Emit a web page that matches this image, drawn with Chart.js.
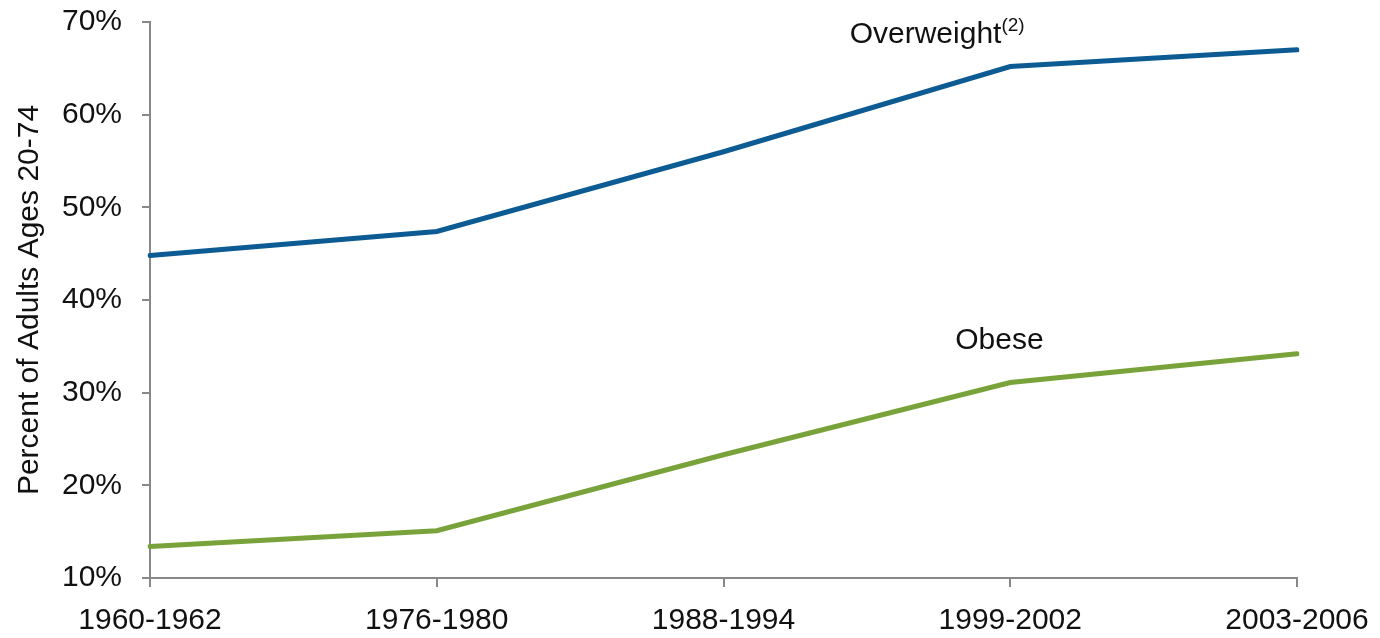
<!DOCTYPE html>
<html>
<head>
<meta charset="utf-8">
<script src="https://cdn.jsdelivr.net/npm/chart.js@4.4.1/dist/chart.umd.min.js"></script>
<style>
  html, body { margin: 0; padding: 0; background: #fff; }
  #wrap { width: 1380px; height: 638px; }
</style>
</head>
<body>
<div id="wrap"><canvas id="chart" width="1380" height="638"></canvas></div>
<script>
const periods = ["1960-1962", "1976-1980", "1988-1994", "1999-2002", "2003-2006"];
const overweight = [44.8, 47.4, 56.0, 65.2, 67.0];
const obese = [13.4, 15.1, 23.3, 31.1, 34.2];
const yTicks = [10, 20, 30, 40, 50, 60, 70];

const FONT = "'Liberation Sans', Arial, sans-serif";
const AXIS = "#888888";

// text labels next to the lines
const seriesLabels = {
  id: "seriesLabels",
  afterDatasetsDraw(chart) {
    const { ctx, scales: { x, y } } = chart;
    ctx.save();
    ctx.fillStyle = "#111";
    ctx.textBaseline = "alphabetic";
    ctx.textAlign = "left";

    ctx.font = "30px " + FONT;
    const ox = x.getPixelForValue(2.44);
    const oy = y.getPixelForValue(67.7);
    ctx.fillText("Overweight", ox, oy);
    const w = ctx.measureText("Overweight").width;
    ctx.font = "19px " + FONT;
    ctx.fillText("(2)", ox + w, oy - 12);

    ctx.font = "30px " + FONT;
    ctx.fillText("Obese", x.getPixelForValue(2.808), y.getPixelForValue(34.7));
    ctx.restore();
  }
};

new Chart(document.getElementById("chart").getContext("2d"), {
  type: "line",
  data: {
    labels: periods,
    datasets: [
      {
        label: "Overweight",
        data: overweight,
        borderColor: "#0c5b93",
        borderWidth: 5,
        pointRadius: 0,
        tension: 0,
        borderCapStyle: "round"
      },
      {
        label: "Obese",
        data: obese,
        borderColor: "#79a33a",
        borderWidth: 5,
        pointRadius: 0,
        tension: 0,
        borderCapStyle: "round"
      }
    ]
  },
  options: {
    responsive: false,
    animation: false,
    layout: { padding: { top: 22, right: 83, left: 0, bottom: 0 } },
    plugins: {
      legend: { display: false },
      tooltip: { enabled: false }
    },
    scales: {
      x: {
        offset: false,
        grid: { offset: false, drawOnChartArea: false, drawTicks: true, tickLength: 9, color: AXIS, lineWidth: 2 },
        border: { display: true, color: AXIS, width: 2 },
        ticks: { color: "#111", font: { family: FONT, size: 30 }, padding: 16, maxRotation: 0, autoSkip: false },
        afterFit(scale) {
          scale.height = 60;
          scale.paddingLeft = 0;
          scale.paddingRight = 0;
        }
      },
      y: {
        min: 10,
        max: 70,
        afterBuildTicks(scale) { scale.ticks = yTicks.map(v => ({ value: v })); },
        grid: { drawOnChartArea: false, drawTicks: true, tickLength: 8, color: AXIS, lineWidth: 2 },
        border: { display: true, color: AXIS, width: 2 },
        ticks: {
          color: "#111",
          font: { family: FONT, size: 30 },
          padding: 20,
          callback: v => v + "%"
        },
        title: {
          display: true,
          text: "Percent of Adults Ages 20-74",
          color: "#111",
          font: { family: FONT, size: 30 },
          padding: { top: 12, bottom: 4 }
        },
        afterFit(scale) {
          scale.width = 150;
          scale.paddingTop = 0;
          scale.paddingBottom = 0;
        }
      }
    }
  },
  plugins: [seriesLabels]
});
</script>
</body>
</html>
